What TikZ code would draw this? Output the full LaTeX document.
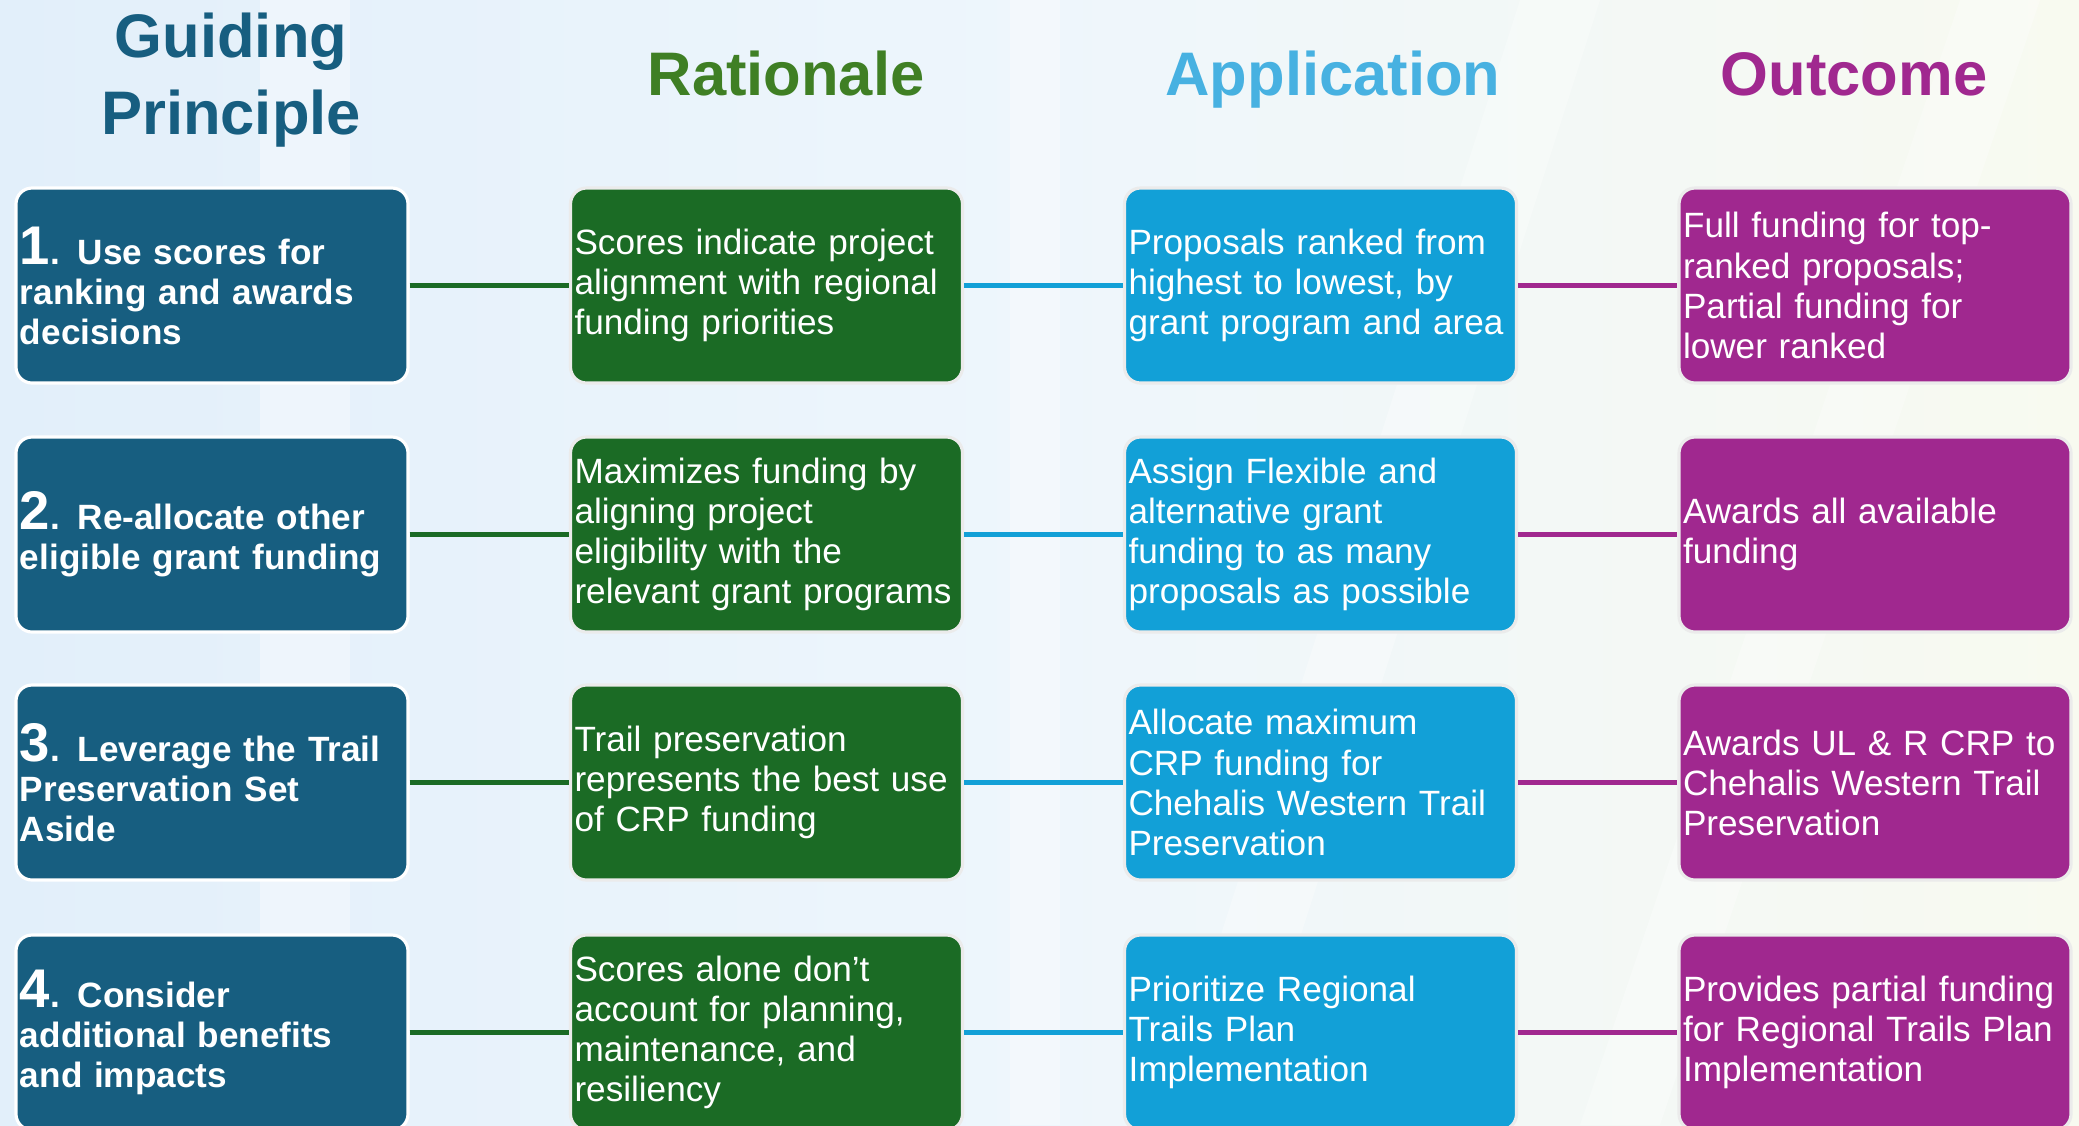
\documentclass[tikz,border=0pt]{standalone}
\usepackage{fontspec}
\setmainfont{Liberation Sans}
\usetikzlibrary{positioning}
\definecolor{guideblue}{HTML}{175E80}
\definecolor{ratgreen}{HTML}{1B6B25}
\definecolor{ratheadgreen}{HTML}{3F7F24}
\definecolor{appblue}{HTML}{12A0D7}
\definecolor{appheadblue}{HTML}{47B1E1}
\definecolor{outpurple}{HTML}{A0288F}
\definecolor{bgleft}{HTML}{E2EFFA}
\definecolor{bgmid}{HTML}{EEF6FC}
\definecolor{bgright}{HTML}{F8FAF0}
\newcommand\bignum[1]{{\fontsize{15.5}{15}\selectfont #1}}
\tikzset{
  card/.style={rectangle, rounded corners=0.16cm, line width=0.9pt, text=white,
    minimum width=3.92cm, minimum height=1.95cm, text width=3.84cm,
    inner xsep=0.04cm, align=left, font=\fontsize{10}{11.4}\selectfont},
  guidecard/.style={card, fill=guideblue, draw=white,
    font=\bfseries\fontsize{10}{11.4}\selectfont},
  ratcard/.style={card, fill=ratgreen, draw=black!8},
  appcard/.style={card, fill=appblue, draw=black!8},
  outcard/.style={card, fill=outpurple, draw=black!8},
  head/.style={font=\bfseries\fontsize{17.5}{21.8}\selectfont, align=center},
  link/.style={line width=1.2pt}
}
\begin{document}
\begin{tikzpicture}
		%%%%% BACKGROUND %%%%%
		\useasboundingbox (0, 0) rectangle (20.79, -11.25);
		\shade[left color=bgleft, right color=bgright, middle color=bgmid] (0, 0) rectangle (20.79, -11.25);
		\fill[white, opacity=0.35] (2.6, 0) rectangle (3.5, -11.25);
		\fill[white, opacity=0.3] (10.1, 0) rectangle (10.6, -11.25);
		\fill[white, opacity=0.3] (15.2, 0) -- (16.0, 0) -- (12.4, -11.25) -- (11.6, -11.25) -- cycle;
		\fill[white, opacity=0.3] (19.6, 0) -- (20.4, 0) -- (16.6, -11.25) -- (15.8, -11.25) -- cycle;

		%%%%% HEADINGS %%%%%
		\node[head, text=guideblue] (hguide) at (2.31, -0.80) {Guiding\\Principle};
		\node[head, text=ratheadgreen, anchor=base] (hrat) at (7.86, -0.95) {Rationale};
		\node[head, text=appheadblue, anchor=base] (happ) at (13.33, -0.95) {Application};
		\node[head, text=outpurple, anchor=base] (hout) at (18.54, -0.95) {Outcome};

		%%%%% ROW 1 %%%%%
		\node[guidecard] (g1) at (2.12, -2.855) {\bignum{1}. Use scores for\\ranking and awards\\decisions};
		\node[ratcard] (r1) at (7.665, -2.855) {Scores indicate project\\alignment with regional\\funding priorities};
		\node[appcard] (a1) at (13.205, -2.855) {Proposals ranked from\\highest to lowest, by\\grant program and area};
		\node[outcard] (o1) at (18.75, -2.855) {Full funding for top-\\ranked proposals;\\Partial funding for\\lower ranked};

		%%%%% ROW 2 %%%%%
		\node[guidecard] (g2) at (2.12, -5.345) {\bignum{2}. Re-allocate other\\eligible grant funding};
		\node[ratcard] (r2) at (7.665, -5.345) {Maximizes funding by\\aligning project\\eligibility with the\\relevant grant programs};
		\node[appcard] (a2) at (13.205, -5.345) {Assign Flexible and\\alternative grant\\funding to as many\\proposals as possible};
		\node[outcard] (o2) at (18.75, -5.345) {Awards all available\\funding};

		%%%%% ROW 3 %%%%%
		\node[guidecard] (g3) at (2.12, -7.825) {\bignum{3}. Leverage the Trail\\Preservation Set\\Aside};
		\node[ratcard] (r3) at (7.665, -7.825) {Trail preservation\\represents the best use\\of CRP funding};
		\node[appcard] (a3) at (13.205, -7.825) {Allocate maximum\\CRP funding for\\Chehalis Western Trail\\Preservation};
		\node[outcard] (o3) at (18.75, -7.825) {Awards UL \& R CRP to\\Chehalis Western Trail\\Preservation};

		%%%%% ROW 4 %%%%%
		\node[guidecard] (g4) at (2.12, -10.325) {\bignum{4}. Consider\\additional benefits\\and impacts};
		\node[ratcard] (r4) at (7.665, -10.325) {Scores alone don’t\\account for planning,\\maintenance, and\\resiliency};
		\node[appcard] (a4) at (13.205, -10.325) {Prioritize Regional\\Trails Plan\\Implementation};
		\node[outcard] (o4) at (18.75, -10.325) {Provides partial funding\\for Regional Trails Plan\\Implementation};

		%%%%% LINKS %%%%%
		\draw[link, ratgreen] (g1) -- (r1);
		\draw[link, appblue] (r1) -- (a1);
		\draw[link, outpurple] (a1) -- (o1);
		\draw[link, ratgreen] (g2) -- (r2);
		\draw[link, appblue] (r2) -- (a2);
		\draw[link, outpurple] (a2) -- (o2);
		\draw[link, ratgreen] (g3) -- (r3);
		\draw[link, appblue] (r3) -- (a3);
		\draw[link, outpurple] (a3) -- (o3);
		\draw[link, ratgreen] (g4) -- (r4);
		\draw[link, appblue] (r4) -- (a4);
		\draw[link, outpurple] (a4) -- (o4);
	\end{tikzpicture}
\end{document}
